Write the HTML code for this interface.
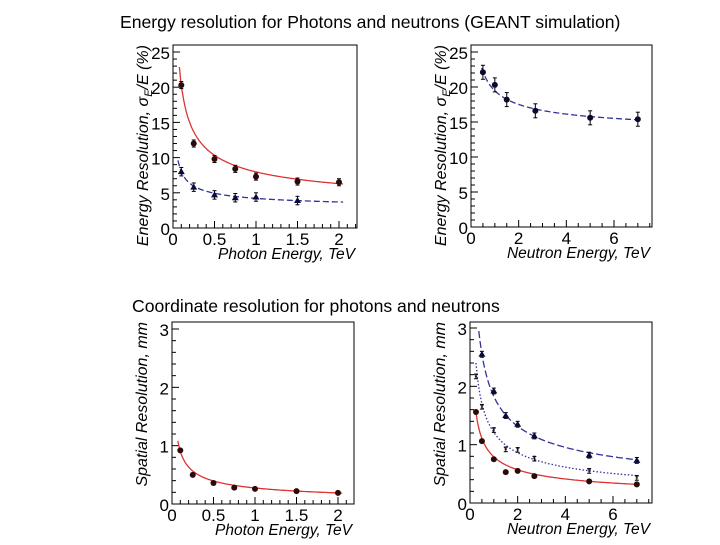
<!DOCTYPE html>
<html><head><meta charset="utf-8"><style>
body{margin:0;background:#fff;}
svg text{font-family:"Liberation Sans",sans-serif;}
</style></head><body>
<svg id="c" width="720" height="540" xmlns="http://www.w3.org/2000/svg">
<text x="120" y="28" font-size="17.6">Energy resolution for Photons and neutrons (GEANT simulation)</text>
<text x="132" y="312" font-size="17.6">Coordinate resolution for photons and neutrons</text>
</svg>
<script>
// Panel A: photon energy resolution
const phE_x = [0.1,0.25,0.5,0.75,1,1.5,2];
const phE_red = [20.3,12,9.8,8.4,7.3,6.6,6.5];
const phE_blue_x = [0.1,0.25,0.5,0.75,1,1.5];
const phE_blue = [8,5.8,4.7,4.3,4.4,3.9];
// Panel B: neutron energy resolution
const nE_x = [0.5,1,1.5,2.7,5,7];
const nE_y = [22.1,20.3,18.2,16.6,15.6,15.4];
// Panel C: photon spatial resolution
const phS_x = [0.1,0.25,0.5,0.75,1,1.5,2];
const phS_y = [0.92,0.5,0.36,0.28,0.26,0.22,0.19];
// Panel D: neutron spatial resolution
const nS_x = [0.25,0.5,1,1.5,2,2.7,5,7];
const nS_red = [1.56,1.06,0.75,0.53,0.55,0.46,0.37,0.32];
const nS_star = [2.17,1.65,1.25,0.92,0.91,0.76,0.55,0.43];
const nS_tri_x = [0.5,1,1.5,2,2.7,5,7];
const nS_tri = [2.55,1.92,1.5,1.35,1.15,0.82,0.73];
// fit parameters a/sqrt(E)+c
const fitPhRed=[5.7,2.27], fitPhBlue=[1.75,2.46], fitN=[6.66,12.8];
const fitSPh=[0.29,-0.015], fitSNRed=[0.758,0.033], fitSNTri=[1.747,0.08], fitSNStar=[1.19,0.02];
const yTicksE=["0","5","10","15","20","25"], yTicksS=["0","1","2","3"];
const xTicksPh=["0","0.5","1","1.5","2"], xTicksN=["0","2","4","6"];

const NS="http://www.w3.org/2000/svg", svg=document.getElementById('c');
function mk(t,a,p){const e=document.createElementNS(NS,t);for(const k in a)e.setAttribute(k,a[k]);(p||svg).appendChild(e);return e;}

function panel(o){
  const g=mk('g',{});
  
  
  const X=v=>o.x0+(v-0)/(o.xmax)*(o.x1-o.x0), Y=v=>o.y0-v/o.ymax*(o.y0-o.yt);
  o.X=X;o.Y=Y;
  const fr=mk('rect',{x:o.x0,y:o.top,width:o.right-o.x0,height:o.y0-o.top,fill:'none',stroke:'#000','stroke-width':1},g);
  
  
  for(let v=0;v<=o.ymax+1e-9;v+=o.yminor){const maj=Math.abs(v/o.ymajor-Math.round(v/o.ymajor))<1e-6;
    mk('line',{x1:o.x0,x2:o.x0+(maj?7:4),y1:Y(v),y2:Y(v),stroke:'#000'},g);}
  o.yl.forEach((t,i)=>{const tx=mk('text',{x:o.x0-3,y:Y(+t)+7,'font-size':17,'text-anchor':'end'},g);tx.textContent=t;
    
    });
  for(let v=0;X(v)<=o.right+0.5;v+=o.xminor){const maj=Math.abs(v/o.xmajor-Math.round(v/o.xmajor))<1e-6;
    mk('line',{x1:X(v),x2:X(v),y1:o.y0,y2:o.y0-(maj?7:4),stroke:'#000'},g);}
  o.xl.forEach(t=>{const tx=mk('text',{x:X(+t),y:o.y0+17,'font-size':17,'text-anchor':'middle'},g);tx.textContent=t;
    
    });
  const xt=mk('text',{x:o.right-2,y:o.y0+31,'font-size':15.5,'font-style':'italic','text-anchor':'end'},g);xt.textContent=o.xt;
  
  
  const yt=mk('text',{x:0,y:0,'font-size':16,'font-style':'italic','text-anchor':'end',transform:`translate(${o.x0-25},${o.top}) rotate(-90)`},g);
  yt.innerHTML=o.ytHTML;
  
  
  o.g=g;return o;
}
function fit(o,p,xa,xb,col,dash,name){
  let d='';for(let i=0;i<=120;i++){const x=xa+(xb-xa)*i/120;let y=p[0]/Math.sqrt(x)+p[1];if(y>o.ymax)continue;
    d+=(d?'L':'M')+o.X(x).toFixed(1)+','+o.Y(y).toFixed(1);}
  const e=mk('path',{d:d,fill:'none',stroke:col,'stroke-width':1.3,'stroke-dasharray':dash||'none'},o.g);
  
  
}
function pts(o,xs,ys,shape,err,name){
  xs.forEach((x,i)=>{const cx=o.X(x),cy=o.Y(ys[i]);
    if(err){const eh=(o.y0-o.yt)*err/o.ymax;mk('line',{x1:cx,x2:cx,y1:cy-eh,y2:cy+eh,stroke:'#000'},o.g);
      mk('line',{x1:cx-2,x2:cx+2,y1:cy-eh,y2:cy-eh,stroke:'#000'},o.g);mk('line',{x1:cx-2,x2:cx+2,y1:cy+eh,y2:cy+eh,stroke:'#000'},o.g);}
    let e;
    if(shape==='c')e=mk('circle',{cx:cx,cy:cy,r:3,fill:'#2a0a0a'},o.g);
    else if(shape==='cb')e=mk('circle',{cx:cx,cy:cy,r:3,fill:'#0a0a2a'},o.g);
    else if(shape==='t')e=mk('path',{d:`M${cx},${cy-3.5}L${cx+3.5},${cy+2.5}L${cx-3.5},${cy+2.5}Z`,fill:'#0a0a3a'},o.g);
    else e=mk('text',{x:cx,y:cy+4,'font-size':10,'text-anchor':'middle',fill:'#111'},o.g),e.textContent='*';
    
    
  });
}
const yE='Energy Resolution, σ<tspan font-size="11" dy="4">E</tspan><tspan dy="-4">/E  (%)</tspan>';
const A=panel({name:'photon-energy-panel',x0:173,x1:339,xmax:2,right:357,top:45,y0:228,yt:52,ymax:25,ymajor:5,yminor:1,xmajor:0.5,xminor:0.1,yl:yTicksE,xl:xTicksPh,xt:'Photon Energy, TeV',ytHTML:yE});
fit(A,fitPhRed,0.06,2.05,'#d33',null,'photon-red-fit');
fit(A,fitPhBlue,0.06,2.05,'#339','6,3','photon-blue-fit');
pts(A,phE_x,phE_red,'c',0.5,'photon-red-point');
pts(A,phE_blue_x,phE_blue,'t',0.6,'photon-blue-point');
const B=panel({name:'neutron-energy-panel',x0:471,x1:614,xmax:6,right:652,top:45,y0:227,yt:52,ymax:25,ymajor:5,yminor:1,xmajor:2,xminor:0.5,yl:yTicksE,xl:xTicksN,xt:'Neutron Energy, TeV',ytHTML:yE});
fit(B,fitN,0.45,7.1,'#339','6,3','neutron-fit');
pts(B,nE_x,nE_y,'cb',1,'neutron-point');
const C=panel({name:'photon-spatial-panel',x0:172,x1:338,xmax:2,right:354,top:322,y0:504,yt:329,ymax:3,ymajor:1,yminor:0.2,xmajor:0.5,xminor:0.1,yl:yTicksS,xl:xTicksPh,xt:'Photon Energy, TeV',ytHTML:'Spatial Resolution, mm'});
fit(C,fitSPh,0.07,2.05,'#d33',null,'photon-spatial-fit');
pts(C,phS_x,phS_y,'c',0,'photon-spatial-point');
const D=panel({name:'neutron-spatial-panel',x0:470,x1:613,xmax:6,right:652,top:322,y0:503,yt:328,ymax:3,ymajor:1,yminor:0.2,xmajor:2,xminor:0.5,yl:yTicksS,xl:xTicksN,xt:'Neutron Energy, TeV',ytHTML:'Spatial Resolution, mm'});
fit(D,fitSNRed,0.25,7.05,'#d33',null,'neutron-red-fit');
fit(D,fitSNStar,0.25,7.05,'#339','1.5,2','neutron-star-fit');
fit(D,fitSNTri,0.2,7.05,'#339','7,3','neutron-tri-fit');
pts(D,nS_x,nS_red,'c',0,'neutron-red-point');
pts(D,nS_x,nS_star,'s',0.04,'neutron-star-point');
pts(D,nS_tri_x,nS_tri,'t',0.05,'neutron-tri-point');
</script>
</body></html>
